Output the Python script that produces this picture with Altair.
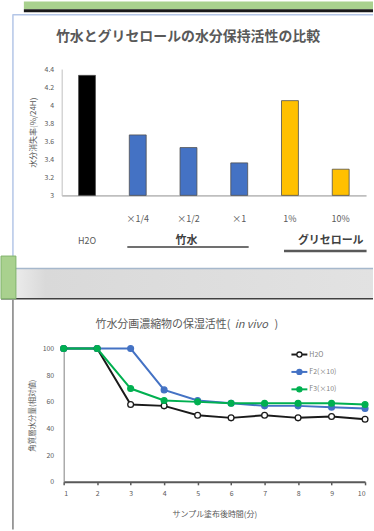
import altair as alt
import pandas as pd

FONT = "Noto Sans CJK JP"

# ---------- chart 1 data ----------
cats = ["H2O", "×1/4", "×1/2", "×1", "1%", "10%"]
values1 = [4.33, 3.67, 3.53, 3.36, 4.05, 3.29]
bar_colors = ["#000000", "#4472C4", "#4472C4", "#4472C4", "#FFC000", "#FFC000"]
y1_ticks = [3, 3.2, 3.4, 3.6, 3.8, 4, 4.2, 4.4]
y1_base = 3
title1 = "竹水とグリセロールの水分保持活性の比較"
ytitle1 = "水分消失率(%/24H)"
group_bamboo = "竹水"
group_glycerol = "グリセロール"

# ---------- chart 2 data ----------
minutes = [1, 2, 3, 4, 5, 6, 7, 8, 9, 10]
h2o = [100, 100, 58, 57, 50, 48, 50, 48, 49, 47]
f2 = [100, 100, 100, 69, 61, 59, 57, 57, 56, 55]
f3 = [100, 100, 70, 61, 60, 59, 59, 59, 59, 58]
series_names = ["H2O", "F2(×10)", "F3(×10)"]
series_strokes = ["#1a1a1a", "#4472C4", "#00B050"]
series_fills = ["#ffffff", "#4472C4", "#00B050"]
y2_ticks = [0, 10, 20, 30, 40, 50, 60, 70, 80, 90, 100]
title2_main = "竹水分画濃縮物の保湿活性("
title2_ital = "in vivo"
title2_end = ")"
xtitle2 = "サンプル塗布後時間(分)"
ytitle2 = "角質層水分量(相対値)"

W = 374
dummy = alt.Data(values=[{}])

df1 = pd.DataFrame({"cat": cats, "val": values1})
df1_top = df1[df1["cat"] != "H2O"]
df1_h2o = df1[df1["cat"] == "H2O"]

df2 = pd.DataFrame({
    "minute": minutes * 3,
    "value": h2o + f2 + f3,
    "series": [series_names[0]] * 10 + [series_names[1]] * 10 + [series_names[2]] * 10,
})
dfleg = pd.DataFrame({"series": series_names})

# ---------- Row 0: top decoration ----------
r0 = alt.layer(
    alt.Chart(dummy).mark_rect(color="#a9d18e").encode(
        x=alt.value(23), x2=alt.value(W), y=alt.value(0), y2=alt.value(8)),
    alt.Chart(dummy).mark_rect(color="#1a1a1a").encode(
        x=alt.value(23), x2=alt.value(W), y=alt.value(8), y2=alt.value(11)),
).properties(width=W, height=13)

# ---------- Row 1: bar chart ----------
xscale1 = alt.Scale(domain=cats, range=[61, 367], paddingInner=0.667, paddingOuter=0.333)
xenc1 = alt.X("cat:N", sort=cats, scale=xscale1,
              axis=alt.Axis(labels=False, ticks=False, title=None, domainColor="#bfbfbf",
                            domainWidth=2, offset=-73, orient="bottom"))

bars = alt.Chart(df1).mark_bar(stroke="#505050", strokeWidth=0.8).encode(
    x=xenc1,
    y=alt.Y("val:Q", scale=alt.Scale(domain=[3, 4.4], range=[182, 55], nice=False, zero=False),
            axis=alt.Axis(values=y1_ticks, format="~g", title=ytitle1, offset=-61, orient="left",
                          ticks=False, grid=False, domainColor="#bfbfbf", domainWidth=1,
                          labelFontSize=7, labelColor="#595959", labelPadding=8,
                          titleFontSize=8, titleColor="#595959", titleFontWeight="normal",
                          titlePadding=7)),
    y2=alt.datum(y1_base),
    color=alt.Color("cat:N", scale=alt.Scale(domain=cats, range=bar_colors), legend=None),
)
xlab_top = alt.Chart(df1_top).mark_text(fontSize=9, color="#595959", font=FONT).encode(
    x=alt.X("cat:N", sort=cats), y=alt.value(206), text="cat:N")
xlab_h2o = alt.Chart(df1_h2o).mark_text(fontSize=9, color="#595959", font=FONT).encode(
    x=alt.X("cat:N", sort=cats), y=alt.value(228), text="cat:N")
grp_b = alt.Chart(pd.DataFrame({"cat": ["×1/2"], "g": [group_bamboo]})).mark_text(
    fontSize=11, fontWeight="bold", color="#404040", font=FONT, dx=-2).encode(
    x=alt.X("cat:N", sort=cats), y=alt.value(228), text="g:N")
grp_g = alt.Chart(pd.DataFrame({"cat": ["1%"], "g": [group_glycerol]})).mark_text(
    fontSize=11, fontWeight="bold", color="#404040", font=FONT, align="left", dx=8).encode(
    x=alt.X("cat:N", sort=cats), y=alt.value(228), text="g:N")
line_b = alt.Chart(pd.DataFrame({"a": ["×1/4"], "b": ["×1"]})).mark_rule(
    color="#404040", strokeWidth=1.5, xOffset=-10.5, x2Offset=9.5).encode(
    x=alt.X("a:N", sort=cats), x2="b:N", y=alt.value(234))
line_g = alt.Chart(pd.DataFrame({"a": ["1%"], "b": ["10%"]})).mark_rule(
    color="#595959", strokeWidth=2.5, xOffset=-6, x2Offset=26).encode(
    x=alt.X("a:N", sort=cats), x2="b:N", y=alt.value(238))
t1 = alt.Chart(dummy).mark_text(fontSize=14, fontWeight="bold", color="#595959", font=FONT).encode(
    x=alt.value(188), y=alt.value(23), text=alt.value(title1))
border1 = alt.layer(
    alt.Chart(dummy).mark_rule(color="#b4c6e7", strokeWidth=1.5).encode(
        x=alt.value(12), x2=alt.value(W), y=alt.value(0.5)),
    alt.Chart(dummy).mark_rule(color="#b4c6e7", strokeWidth=1.5).encode(
        x=alt.value(12), y=alt.value(0), y2=alt.value(255)),
)
r1 = alt.layer(border1, t1, bars, xlab_top, xlab_h2o, grp_b, grp_g, line_b, line_g).properties(
    width=W, height=255)

# ---------- Row 2: grey band ----------
r2 = alt.layer(
    alt.Chart(dummy).mark_rect(color=alt.Gradient(
        gradient="linear", x1=0, x2=1, y1=0, y2=0,
        stops=[alt.GradientStop(offset=0, color="#f4f4f4"),
               alt.GradientStop(offset=0.12, color="#d9d9d9"),
               alt.GradientStop(offset=1, color="#e2e2e2")])).encode(
        x=alt.value(0), x2=alt.value(W), y=alt.value(0), y2=alt.value(31)),
    alt.Chart(dummy).mark_rule(color="#a6b8cc", strokeWidth=1.5).encode(
        x=alt.value(12), x2=alt.value(W), y=alt.value(0.5)),
    alt.Chart(dummy).mark_rule(color="#404040", strokeWidth=1.5).encode(
        x=alt.value(0), x2=alt.value(W), y=alt.value(31)),
    alt.Chart(dummy).mark_rect(color="#a9d18e", stroke="#7fb26a", strokeWidth=1).encode(
        x=alt.value(0), x2=alt.value(15), y=alt.value(-12), y2=alt.value(31)),
).properties(width=W, height=32)

# ---------- Row 3: line chart ----------
stroke_scale = alt.Scale(domain=series_names, range=series_strokes)
fill_scale = alt.Scale(domain=series_names, range=series_fills)
xenc2 = alt.X("minute:Q", scale=alt.Scale(domain=[1, 10], range=[63, 366], nice=False, zero=False),
              axis=alt.Axis(values=minutes, offset=-48, orient="bottom", title=xtitle2, grid=False,
                            domainColor="#595959", domainWidth=2, tickColor="#595959",
                            tickSize=3, tickWidth=1.5, labelFontSize=7, labelColor="#595959",
                            labelPadding=5, titleFontSize=8, titleColor="#595959",
                            titleFontWeight="normal", titlePadding=14))
yenc2 = alt.Y("value:Q", scale=alt.Scale(domain=[0, 100], range=[183, 49], nice=False),
              axis=alt.Axis(values=y2_ticks, offset=-63, orient="left", title=ytitle2, grid=False,
                            ticks=False, domainColor="#7f7f7f", domainWidth=1,
                            labelFontSize=7, labelColor="#595959", labelPadding=10,
                            titleFontSize=7.5, titleColor="#595959", titleFontWeight="normal",
                            titlePadding=6))
lines = alt.Chart(df2).mark_line(strokeWidth=2).encode(
    x=xenc2, y=yenc2,
    stroke=alt.Stroke("series:N", scale=stroke_scale, legend=None),
    detail="series:N")
pts = alt.Chart(df2).mark_point(shape="circle", size=34, strokeWidth=1.3, opacity=1).encode(
    x="minute:Q", y="value:Q",
    stroke=alt.Stroke("series:N", scale=stroke_scale, legend=None),
    fill=alt.Fill("series:N", scale=fill_scale, legend=None))
main2 = alt.layer(lines, pts)

legy = alt.Y("series:N", scale=alt.Scale(type="point", domain=series_names, range=[55, 90], padding=0),
             axis=None)
leg_rule = alt.Chart(dfleg).mark_rule(strokeWidth=2).encode(
    x=alt.value(292), x2=alt.value(308), y=legy,
    stroke=alt.Stroke("series:N", scale=stroke_scale, legend=None))
leg_pt = alt.Chart(dfleg).mark_point(shape="circle", size=26, strokeWidth=1.3, opacity=1).encode(
    x=alt.value(300), y=alt.Y("series:N"),
    stroke=alt.Stroke("series:N", scale=stroke_scale, legend=None),
    fill=alt.Fill("series:N", scale=fill_scale, legend=None))
leg_txt = alt.Chart(dfleg).mark_text(align="left", fontSize=7, color="#7f7f7f", font=FONT).encode(
    x=alt.value(310), y=alt.Y("series:N"), text="series:N")
legend2 = alt.layer(leg_rule, leg_pt, leg_txt)

t2a = alt.Chart(dummy).mark_text(fontSize=11, color="#595959", font=FONT, align="left").encode(
    x=alt.value(95), y=alt.value(25), text=alt.value(title2_main))
t2b = alt.Chart(dummy).mark_text(fontSize=11, color="#595959", font=FONT, align="left",
                                 fontStyle="italic").encode(
    x=alt.value(235), y=alt.value(25), text=alt.value(title2_ital))
t2c = alt.Chart(dummy).mark_text(fontSize=11, color="#595959", font=FONT, align="left").encode(
    x=alt.value(275), y=alt.value(25), text=alt.value(title2_end))
border3 = alt.Chart(dummy).mark_rule(color="#7f7f7f", strokeWidth=1.5).encode(
    x=alt.value(12), y=alt.value(0), y2=alt.value(231))

r3 = alt.layer(border3, t2a, t2b, t2c, main2, legend2).resolve_scale(y="independent").properties(
    width=W, height=231)

chart = alt.vconcat(r0, r1, r2, r3, spacing=0, bounds="flush").properties(
    padding=0, background="white"
).configure_view(stroke=None).configure_axis(labelFont=FONT, titleFont=FONT).configure_text(font=FONT)

chart.save("out.html", embed_options={"renderer": "svg", "actions": False})
